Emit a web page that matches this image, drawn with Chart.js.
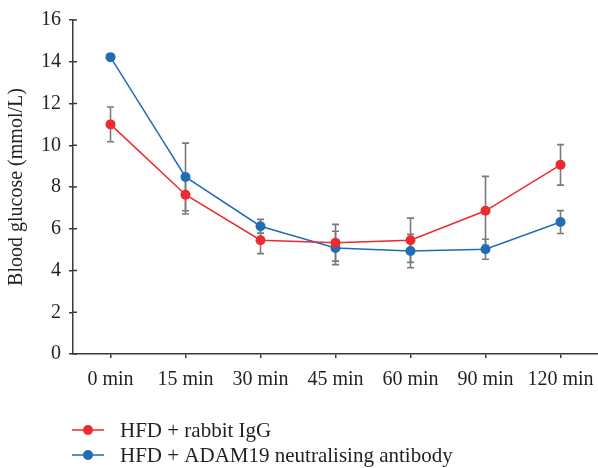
<!DOCTYPE html>
<html>
<head>
<meta charset="utf-8">
<script src="https://cdn.jsdelivr.net/npm/chart.js@4.4.1/dist/chart.umd.min.js"></script>
<style>
    html, body { margin: 0; padding: 0; background: #fff; }
    #wrap { width: 598px; height: 468px; position: relative; }
</style>
</head>
<body>
<div id="wrap"><canvas id="glucoseChart"></canvas></div>
<script>
// values (mmol/L)
const timePoints = ['0 min', '15 min', '30 min', '45 min', '60 min', '90 min', '120 min'];
const iggMean = [11.0, 7.63, 5.45, 5.33, 5.45, 6.86, 9.06];
const iggErr = [0.83, 0.92, 0.64, 0.88, 1.06, 1.65, 0.97];
const adamMean = [14.22, 8.48, 6.12, 5.08, 4.93, 5.02, 6.32];
const adamErr = [0, 1.62, 0.33, 0.8, 0.8, 0.48, 0.55];
const yTicks = [0, 2, 4, 6, 8, 10, 12, 14, 16];

const serif = '"Liberation Serif", "Times New Roman", serif';
const axisColor = '#3a3a3a';
const textColor = '#231f20';
const redColor = '#ec2a2f';
const blueColor = '#1f6db7';

// grey error bars, drawn under the lines and points
const errorBars = {
    id: 'errorBars',
    beforeDatasetsDraw(chart) {
        const ctx = chart.ctx;
        const yScale = chart.scales.y;
        ctx.save();
        ctx.strokeStyle = '#7a7a7a';
        ctx.lineWidth = 1.6;
        chart.data.datasets.forEach((ds, i) => {
            const meta = chart.getDatasetMeta(i);
            meta.data.forEach((pt, j) => {
                const err = ds.errors[j];
                if (!err) return;
                const top = yScale.getPixelForValue(ds.data[j] + err);
                const bottom = yScale.getPixelForValue(ds.data[j] - err);
                ctx.beginPath();
                ctx.moveTo(pt.x, top);
                ctx.lineTo(pt.x, bottom);
                ctx.moveTo(pt.x - 3.5, top);
                ctx.lineTo(pt.x + 3.5, top);
                ctx.moveTo(pt.x - 3.5, bottom);
                ctx.lineTo(pt.x + 3.5, bottom);
                ctx.stroke();
            });
        });
        ctx.restore();
    }
};

// inner half of the y tick marks (they cross the axis line)
const innerTicks = {
    id: 'innerTicks',
    afterDraw(chart) {
        const ctx = chart.ctx;
        const area = chart.chartArea;
        const yScale = chart.scales.y;
        ctx.save();
        ctx.strokeStyle = axisColor;
        ctx.lineWidth = 1.5;
        yScale.ticks.forEach(t => {
            const py = yScale.getPixelForValue(t.value);
            ctx.beginPath();
            ctx.moveTo(area.left, py);
            ctx.lineTo(area.left + 4, py);
            ctx.stroke();
        });
        ctx.restore();
    }
};

// legend stacked in two rows under the axis labels
const stackedLegend = {
    id: 'stackedLegend',
    afterDraw(chart) {
        const ctx = chart.ctx;
        const rows = [430, 455];
        ctx.save();
        ctx.font = '21px ' + serif;
        ctx.textBaseline = 'middle';
        ctx.textAlign = 'left';
        chart.data.datasets.forEach((ds, i) => {
            const y = rows[i];
            ctx.strokeStyle = ds.borderColor;
            ctx.lineWidth = 1.5;
            ctx.beginPath();
            ctx.moveTo(72, y);
            ctx.lineTo(104, y);
            ctx.stroke();
            ctx.fillStyle = ds.backgroundColor;
            ctx.beginPath();
            ctx.arc(88, y, 5, 0, Math.PI * 2);
            ctx.fill();
            ctx.fillStyle = textColor;
            ctx.fillText(ds.label, 120, y + 1);
        });
        ctx.restore();
    }
};

const ctx = document.getElementById('glucoseChart').getContext('2d');
new Chart(ctx, {
    type: 'line',
    data: {
        labels: timePoints,
        datasets: [
            {
                label: 'HFD + rabbit IgG',
                data: iggMean,
                errors: iggErr,
                borderColor: redColor,
                backgroundColor: redColor,
                borderWidth: 1.5,
                pointRadius: 5,
                pointBorderWidth: 0,
                tension: 0
            },
            {
                label: 'HFD + ADAM19 neutralising antibody',
                data: adamMean,
                errors: adamErr,
                borderColor: blueColor,
                backgroundColor: blueColor,
                borderWidth: 1.5,
                pointRadius: 5,
                pointBorderWidth: 0,
                tension: 0
            }
        ]
    },
    options: {
        responsive: true,
        maintainAspectRatio: false,
        animation: false,
        layout: {
            autoPadding: false,
            padding: { top: 20, right: 0, bottom: 66, left: 0 }
        },
        plugins: {
            legend: { display: false },
            tooltip: { enabled: false }
        },
        scales: {
            x: {
                offset: true,
                afterFit: scale => {
                    // axis line runs to the right edge of the figure
                    scale.paddingLeft = 0;
                    scale.paddingRight = 0;
                },
                grid: {
                    display: true,
                    drawOnChartArea: false,
                    drawTicks: true,
                    tickLength: 4,
                    color: axisColor,
                    lineWidth: 1.5
                },
                border: { color: axisColor, width: 1.5 },
                ticks: {
                    color: textColor,
                    padding: 10,
                    maxRotation: 0,
                    font: { family: serif, size: 20 }
                }
            },
            y: {
                min: 0,
                max: 16,
                afterBuildTicks: scale => {
                    scale.ticks = yTicks.map(v => ({ value: v }));
                },
                grid: {
                    display: true,
                    drawOnChartArea: false,
                    drawTicks: true,
                    tickLength: 4,
                    color: axisColor,
                    lineWidth: 1.5
                },
                border: { color: axisColor, width: 1.5 },
                ticks: {
                    color: textColor,
                    padding: 8,
                    font: { family: serif, size: 20 }
                },
                title: {
                    display: true,
                    text: 'Blood glucose (mmol/L)',
                    color: textColor,
                    padding: { top: 5, bottom: 4 },
                    font: { family: serif, size: 20 }
                }
            }
        }
    },
    plugins: [errorBars, innerTicks, stackedLegend]
});
</script>
</body>
</html>
